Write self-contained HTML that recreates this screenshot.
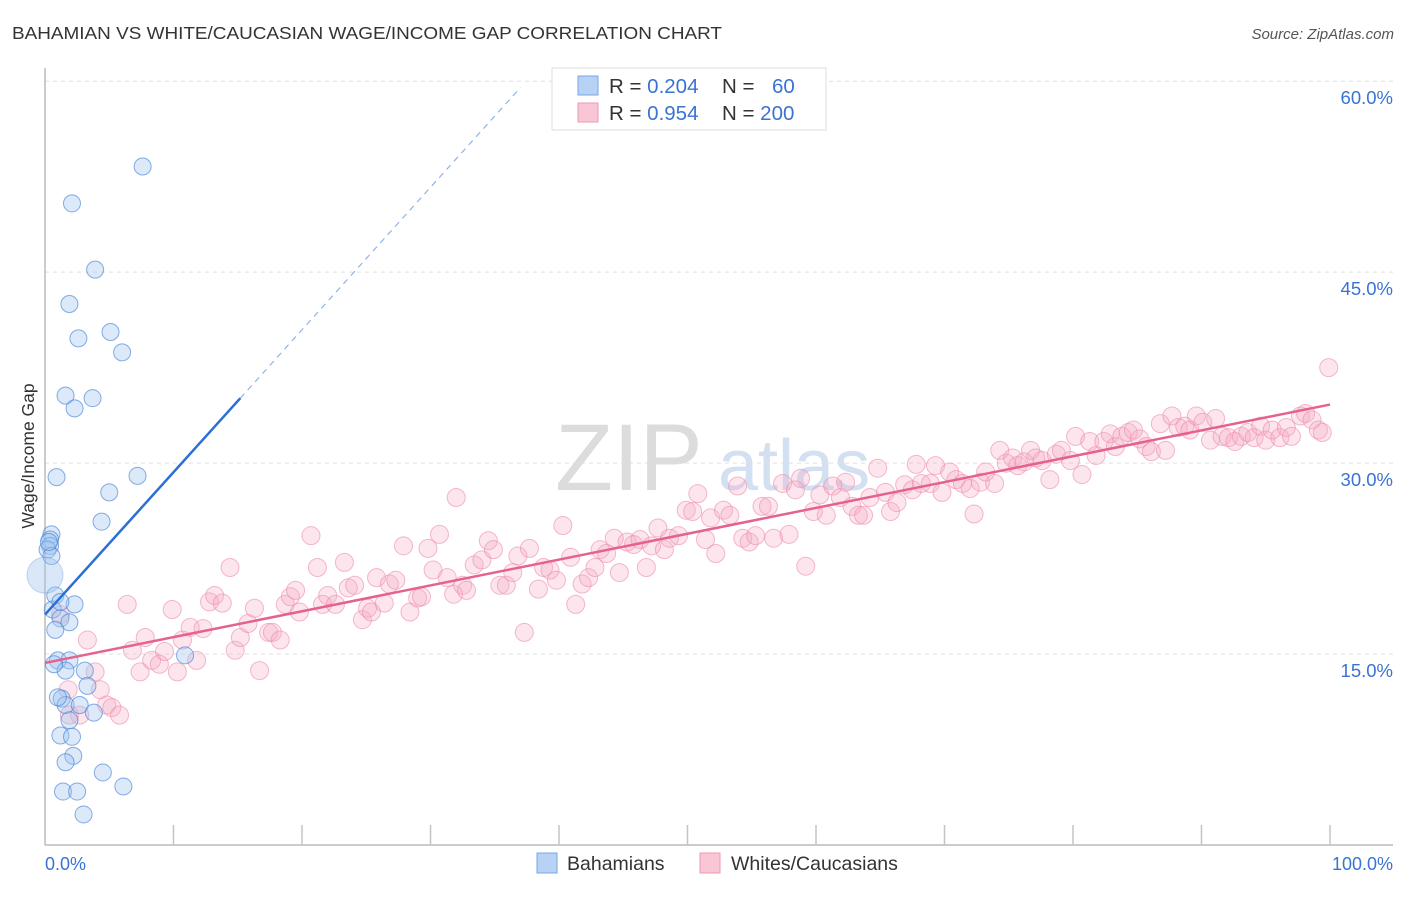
<!DOCTYPE html>
<html><head><meta charset="utf-8"><style>
body{margin:0;background:#fff;font-family:"Liberation Sans",sans-serif;}
svg text{font-family:"Liberation Sans",sans-serif;}
</style></head><body>
<svg id="chart" width="1406" height="892">
<text x="12" y="39" font-size="17.5" fill="#333" textLength="710" lengthAdjust="spacingAndGlyphs">BAHAMIAN VS WHITE/CAUCASIAN WAGE/INCOME GAP CORRELATION CHART</text>
<text x="1394" y="39" font-size="15" fill="#555" font-style="italic" text-anchor="end">Source: ZipAtlas.com</text>
<text x="555" y="490" font-size="95" fill="#dcdcdc" font-family="Liberation Serif">ZIP</text>
<text x="718" y="490" font-size="72" fill="#d3e0f2">atlas</text>
<g id="grid"></g><g id="axes"></g><g id="pts"></g><g id="lines"></g>
<text transform="translate(34,456) rotate(-90)" font-size="17.5" fill="#333" text-anchor="middle">Wage/Income Gap</text>
<text x="45" y="870" font-size="18" fill="#3a73d4">0.0%</text>
<text x="1393" y="870" font-size="18" fill="#3a73d4" text-anchor="end">100.0%</text>
<g>
<rect x="552" y="68" width="274" height="62" fill="#fff" stroke="#ddd"/>
<rect x="578" y="76" width="20" height="19" fill="#b8d2f5" stroke="#7aa6e6"/>
<rect x="578" y="103" width="20" height="19" fill="#f8c6d4" stroke="#ee9ab3"/>
<text x="609" y="93" font-size="20.5" fill="#333">R = <tspan fill="#3a73d4">0.204</tspan></text>
<text x="722" y="93" font-size="20.5" fill="#333">N = <tspan x="772" fill="#3a73d4">60</tspan></text>
<text x="609" y="120" font-size="20.5" fill="#333">R = <tspan fill="#3a73d4">0.954</tspan></text>
<text x="722" y="120" font-size="20.5" fill="#333">N = <tspan fill="#3a73d4">200</tspan></text>
</g>
<g>
<rect x="537" y="853" width="20" height="20" fill="#b8d2f5" stroke="#7aa6e6"/>
<text x="567" y="870" font-size="19.5" fill="#333">Bahamians</text></g>
<g>
<rect x="700" y="853" width="20" height="20" fill="#f8c6d4" stroke="#ee9ab3"/>
<text x="731" y="870" font-size="19.5" fill="#333">Whites/Caucasians</text></g>
</svg>
<script>
const yTicks=[15,30,45,60];
const yTickLabels=["15.0%","30.0%","45.0%","60.0%"];
const xTicks=[10,20,30,40,50,60,70,80,90,100];
const blueX=[7.6,2.1,3.9,1.9,2.6,5.1,6.0,1.6,3.7,2.3,0.9,7.2,5.0,4.4,0.5,0.4,0.4,0.2,0.5,0.8,2.3,0.6,1.2,1.9,0.8,1.0,1.9,1.6,3.1,3.3,1.3,1.6,2.7,3.8,1.9,1.2,2.1,2.2,1.6,4.5,1.4,2.5,6.1,3.0,10.9,1.2,0.7,0.3,1.0];
const blueY=[53.3,50.4,45.2,42.5,39.8,40.3,38.7,35.3,35.1,34.3,28.9,29.0,27.7,25.4,24.4,24.0,23.5,23.2,22.7,19.6,18.9,18.5,17.8,17.5,16.9,14.5,14.5,13.7,13.7,12.5,11.5,11.0,11.0,10.4,9.8,8.6,8.5,7.0,6.5,5.7,4.2,4.2,4.6,2.4,14.9,19.1,14.2,23.8,11.6];
const pinkX=[1.2,1.8,1.9,2.7,3.3,3.9,4.3,4.8,5.2,5.8,6.4,6.8,7.4,7.8,8.3,8.9,9.3,9.9,10.3,10.7,11.3,11.8,12.3,12.8,13.2,13.8,14.4,14.8,15.2,15.8,16.3,16.7,17.4,17.7,18.3,18.7,19.1,19.5,19.8,20.7,21.2,21.6,22.0,22.6,23.3,23.6,24.1,24.7,25.1,25.4,25.8,26.4,26.8,27.3,27.9,28.4,29.0,29.3,29.8,30.2,30.7,31.3,31.8,32.0,32.5,32.8,33.4,34.0,34.5,34.9,35.4,35.9,36.4,36.8,37.3,37.7,38.4,38.8,39.3,39.8,40.3,40.9,41.3,41.8,42.3,42.8,43.2,43.7,44.3,44.7,45.3,45.8,46.3,46.8,47.2,47.7,48.2,48.6,49.3,49.9,50.4,50.8,51.4,51.8,52.2,52.8,53.3,53.9,54.3,54.8,55.3,55.8,56.3,56.7,57.4,57.9,58.4,58.8,59.2,59.8,60.3,60.8,61.3,61.9,62.3,62.8,63.3,63.7,64.2,64.8,65.4,65.8,66.3,66.9,67.5,67.8,68.2,68.9,69.3,69.8,70.4,70.9,71.4,72.0,72.3,72.8,73.2,73.9,74.3,74.8,75.3,75.7,76.2,76.7,77.1,77.6,78.2,78.7,79.1,79.8,80.2,80.7,81.3,81.8,82.4,82.9,83.3,83.8,84.3,84.7,85.2,85.7,86.1,86.8,87.2,87.7,88.2,88.7,89.1,89.6,90.1,90.7,91.1,91.6,92.1,92.6,93.1,93.6,94.1,94.6,95.0,95.5,96.1,96.6,97.0,97.7,98.1,98.6,99.1,99.4,99.9];
const pinkY=[18.1,12.2,10.2,10.2,16.1,13.6,12.2,11.0,10.8,10.2,18.9,15.3,13.6,16.3,14.5,14.2,15.2,18.5,13.6,16.1,17.1,14.5,17.0,19.1,19.6,19.0,21.8,15.3,16.3,17.4,18.6,13.7,16.7,16.7,16.1,18.9,19.5,20.0,18.3,24.3,21.8,18.9,19.6,18.9,22.2,20.2,20.4,17.7,18.6,18.3,21.0,19.0,20.5,20.8,23.5,18.3,19.4,19.5,23.3,21.6,24.4,21.0,19.7,27.3,20.4,20.0,22.0,22.4,23.9,23.2,20.4,20.4,21.4,22.7,16.7,23.3,20.1,21.8,21.6,20.8,25.1,22.6,18.9,20.5,21.0,21.8,23.2,22.9,24.1,21.4,23.8,23.6,24.0,21.8,23.5,24.9,23.2,24.1,24.3,26.3,26.2,27.6,24.0,25.7,22.9,26.3,25.9,28.2,24.1,23.8,24.3,26.6,26.6,24.1,28.4,24.4,27.9,28.8,21.9,26.2,27.5,25.9,28.2,27.3,28.5,26.6,25.9,25.9,27.3,29.6,27.7,26.2,26.9,28.3,27.9,29.9,28.4,28.4,29.8,27.7,29.3,28.7,28.4,28.0,26.0,28.5,29.3,28.4,31.0,30.0,30.4,29.8,30.1,31.0,30.4,30.2,28.7,30.7,31.0,30.2,32.1,29.1,31.7,30.6,31.7,32.3,31.3,32.1,32.4,32.6,31.9,31.3,30.9,33.1,31.0,33.7,32.8,32.9,32.6,33.7,33.2,31.8,33.5,32.1,32.0,31.7,32.1,32.4,32.0,32.9,31.8,32.6,32.0,32.8,32.1,33.7,33.9,33.4,32.6,32.4,37.5];
const blueBigX=[0],blueBigY=[21.2];
const blueLine=[0,18.1,15.2,35.1,37,59.5];
const pinkLine=[0,14.3,100,34.6];
const NS='http://www.w3.org/2000/svg';
const sx=v=>45+v*12.85, sy=v=>845-v*12.73;
function mk(tag,attrs,parent){const e=document.createElementNS(NS,tag);for(const k in attrs)e.setAttribute(k,attrs[k]);document.getElementById(parent).appendChild(e);return e;}
yTicks.forEach((t,i)=>{
 const l=mk('line',{x1:45,x2:1393,y1:sy(t),y2:sy(t),stroke:'#e0e0e0','stroke-dasharray':'4,4'},'grid');
 
 
 const tx=mk('text',{x:1393,y:sy(t)+23,'font-size':18.5,fill:'#3a73d4','text-anchor':'end'},'grid');
 tx.textContent=yTickLabels[i];
 
 
});
const ya=mk('line',{x1:45,x2:45,y1:68,y2:845,stroke:'#bbb','stroke-width':1.5},'axes');


const xa=mk('line',{x1:45,x2:1393,y1:845,y2:845,stroke:'#bbb','stroke-width':1.5},'axes');


xTicks.forEach(t=>{const k=mk('line',{x1:sx(t),x2:sx(t),y1:825,y2:845,stroke:'#c4c4c4','stroke-width':1.5},'axes');
 
 });
pinkX.forEach((x,i)=>{const c=mk('circle',{cx:sx(x),cy:sy(pinkY[i]),r:9,fill:'rgba(246,170,194,0.3)',stroke:'rgba(236,140,170,0.6)','stroke-width':1},'pts');
 
 });
blueX.forEach((x,i)=>{const c=mk('circle',{cx:sx(x),cy:sy(blueY[i]),r:8.5,fill:'rgba(160,196,240,0.38)',stroke:'rgba(70,130,215,0.65)','stroke-width':1},'pts');
 
 });
blueBigX.forEach((x,i)=>{const c=mk('circle',{cx:sx(x),cy:sy(blueBigY[i]),r:18,fill:'rgba(160,196,240,0.4)',stroke:'rgba(70,130,215,0.3)','stroke-width':1},'pts');
 
 });
const bl=mk('line',{x1:sx(blueLine[0]),y1:sy(blueLine[1]),x2:sx(blueLine[2]),y2:sy(blueLine[3]),stroke:'#2a6fd6','stroke-width':2.5},'lines');


const bd=mk('line',{x1:sx(blueLine[2]),y1:sy(blueLine[3]),x2:sx(blueLine[4]),y2:sy(blueLine[5]),stroke:'#8fb4e8','stroke-width':1.2,'stroke-dasharray':'6,5'},'lines');


const pl=mk('line',{x1:sx(pinkLine[0]),y1:sy(pinkLine[1]),x2:sx(pinkLine[2]),y2:sy(pinkLine[3]),stroke:'#e4628c','stroke-width':2.5},'lines');


</script>
</body></html>
